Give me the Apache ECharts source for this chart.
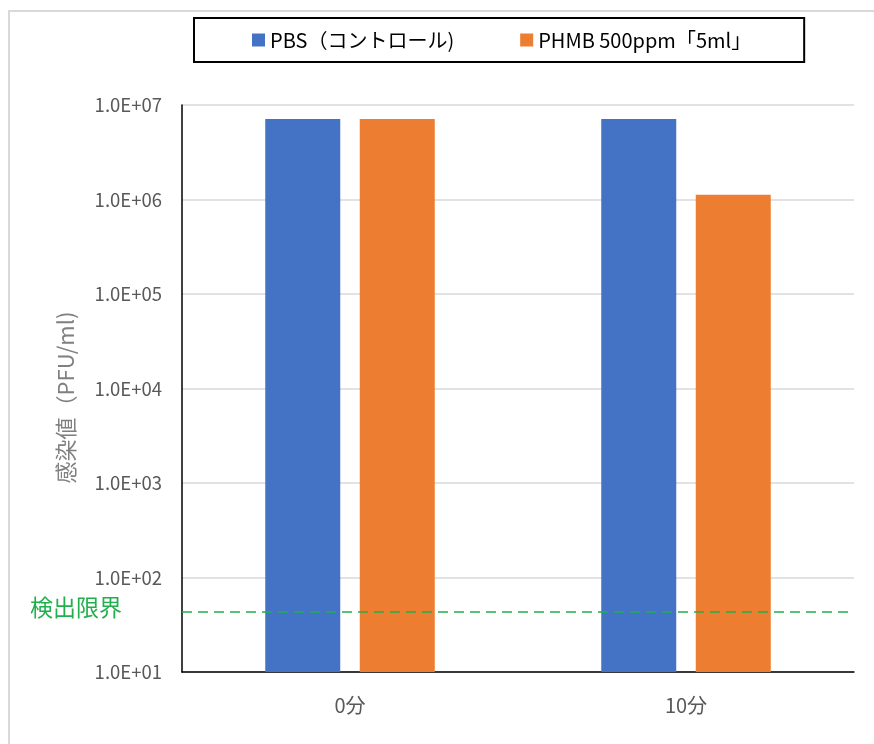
<!DOCTYPE html>
<html>
<head>
<meta charset="utf-8">
<script src="https://cdn.jsdelivr.net/npm/echarts@6/dist/echarts.min.js"></script>
<style>html,body{margin:0;padding:0;background:#fff}#c{width:874px;height:744px}</style>
</head>
<body>
<div id="c"></div>
<script>
const categories = ['0分', '10分'];
const seriesNames = ['PBS（コントロール)', 'PHMB 500ppm「5ml」'];
const pbsValues = [7.1e6, 7.1e6];
const phmbValues = [7.1e6, 1.12e6];
const detectionLimit = 43;
const detectionLabel = '検出限界';
const yAxisTitle = '感染値（PFU/ml)';
const yMin = 10, yMax = 1e7;

const FONT = '"Noto Sans CJK JP", "Noto Sans", sans-serif';
const chart = echarts.init(document.getElementById('c'));

function fmt(v) {
  const e = Math.round(Math.log10(v));
  return '1.0E+' + (e < 10 ? '0' + e : e);
}

chart.setOption({
  animation: false,
  backgroundColor: '#fff',
  textStyle: { fontFamily: FONT },
  graphic: [
    { type: 'line', shape: { x1: 8, y1: 11, x2: 874, y2: 11 }, style: { stroke: '#d9d9d9', lineWidth: 2 } },
    { type: 'line', shape: { x1: 9, y1: 10, x2: 9, y2: 744 }, style: { stroke: '#d9d9d9', lineWidth: 2 } }
  ],
  legend: {
    left: 194, top: 18,
    padding: [12, 53, 12, 58],
    borderColor: '#000', borderWidth: 2,
    itemWidth: 13, itemHeight: 13, itemGap: 66,
    icon: 'rect',
    textStyle: { fontSize: 20, color: '#000', fontFamily: FONT },
    data: seriesNames
  },
  grid: { left: 182, right: 20, top: 105, bottom: 72, containLabel: false },
  xAxis: {
    type: 'category',
    data: categories,
    axisLine: { lineStyle: { color: '#000', width: 1.5 } },
    axisTick: { show: false },
    axisLabel: { color: '#595959', fontSize: 20, margin: 23, fontFamily: FONT }
  },
  yAxis: {
    type: 'log', logBase: 10, min: yMin, max: yMax,
    name: yAxisTitle, nameLocation: 'middle', nameGap: 105,
    nameTextStyle: { color: '#808080', fontSize: 22, fontFamily: FONT, padding: [0, 18, 0, 0] },
    axisLine: { show: true, lineStyle: { color: '#000', width: 1.5 } },
    axisTick: { show: false },
    splitLine: { lineStyle: { color: '#d9d9d9', width: 1.5 } },
    axisLabel: { formatter: fmt, color: '#595959', fontSize: 18.5, margin: 20, fontFamily: FONT }
  },
  series: [
    {
      name: seriesNames[0], type: 'bar', data: pbsValues,
      barWidth: 75, barGap: '26%',
      itemStyle: { color: '#4472c4' },
      markLine: {
        silent: true, symbol: 'none',
        lineStyle: { color: '#21b04b', type: [10, 6], width: 1.5 },
        label: { show: true, position: 'start', formatter: detectionLabel, color: '#21b04b', fontSize: 23, distance: 60, offset: [0, -5], fontFamily: FONT },
        data: [{ yAxis: detectionLimit }]
      }
    },
    {
      name: seriesNames[1], type: 'bar', data: phmbValues,
      barWidth: 75,
      itemStyle: { color: '#ed7d31' }
    }
  ]
});
</script>
</body>
</html>
